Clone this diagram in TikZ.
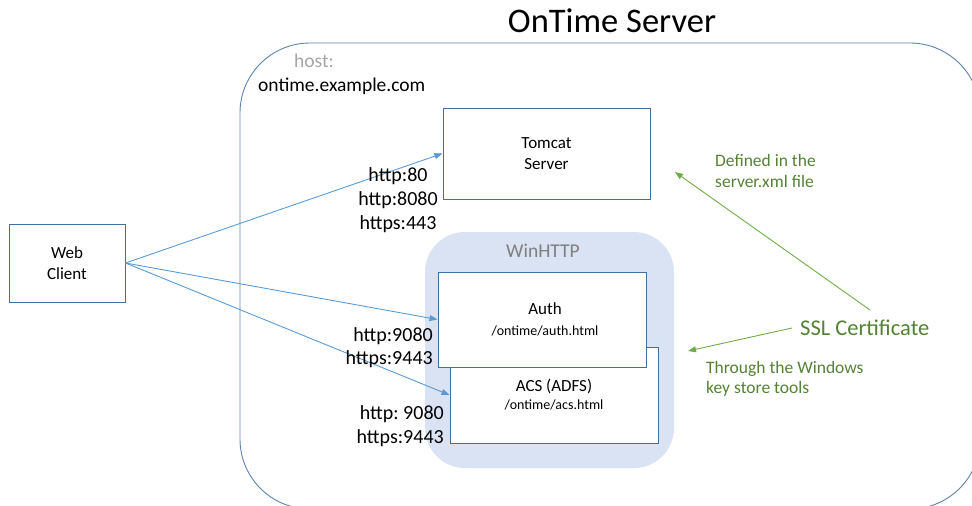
\documentclass[tikz,border=0pt]{standalone}
\usepackage{fontspec}
\setmainfont{Carlito}
\usetikzlibrary{arrows.meta}
\definecolor{boxblue}{HTML}{41719C}
\definecolor{framecol}{HTML}{5E84AE}
\definecolor{arrowblue}{HTML}{5B9BD5}
\definecolor{winfill}{HTML}{DAE3F3}
\definecolor{greentext}{HTML}{548235}
\definecolor{greenline}{HTML}{70AD47}
\definecolor{hostgray}{HTML}{A6A6A6}
\definecolor{midgray}{HTML}{7F7F7F}
\frenchspacing
\begin{document}
\begin{tikzpicture}[x=1pt,y=-1pt,
  compbox/.style={draw=boxblue, line width=1pt, fill=white, align=center, inner sep=0pt, font=\fontsize{17}{21}\selectfont},
  bluearrow/.style={draw=arrowblue, line width=0.9pt, -{Triangle[length=8pt,width=6pt]}},
  greenarrow/.style={draw=greenline, line width=0.9pt, -{Triangle[length=8pt,width=6pt]}},
  portlabel/.style={inner sep=0pt, font=\fontsize{20}{24}\selectfont},
  greennote/.style={inner sep=0pt, anchor=west, align=left, text=greentext, font=\fontsize{17.5}{21.5}\selectfont}
]
\useasboundingbox (0,0) rectangle (972,506);
\clip (0,0) rectangle (972,506);

% server frame
\node[draw=framecol, line width=0.9pt, rounded corners=70pt, minimum width=740pt, minimum height=466pt, inner sep=0pt] (server) at (610,276) {};
\node[inner sep=0pt, font=\fontsize{34.5}{40}\selectfont] (title) at (612,21) {OnTime Server};
\node[inner sep=0pt, anchor=west, text=hostgray, font=\fontsize{19.5}{24}\selectfont] (hostlbl) at (294,61) {host:};
\node[inner sep=0pt, anchor=west, font=\fontsize{19.5}{24}\selectfont] (hostname) at (258,86) {ontime.example.com};

% WinHTTP area
\node[fill=winfill, rounded corners=40pt, minimum width=249pt, minimum height=236pt, inner sep=0pt] (winhttp) at (549.5,350) {};
\node[inner sep=0pt, text=midgray, font=\fontsize{19.5}{24}\selectfont] (winlbl) at (543,251) {WinHTTP};

% component boxes
\node[compbox, minimum width=208pt, minimum height=96pt] (acs) at (554,395) {ACS (ADFS)\\[-3pt]{\fontsize{14}{17}\selectfont /ontime/acs.html}};
\node[compbox, minimum width=208pt, minimum height=95pt] (auth) at (542,319.5) {\hspace*{6pt}Auth\\{\fontsize{14}{17}\selectfont \hspace*{6pt}/ontime/auth.html}};
\node[compbox, minimum width=207pt, minimum height=91pt] (tomcat) at (546.5,153.5) {Tomcat\\Server};
\node[compbox, minimum width=116pt, minimum height=78pt] (wc) at (67,263) {Web\\Client};

% connectors
\draw[bluearrow] (wc.east) -- (tomcat.west);
\draw[bluearrow] (wc.east) -- (auth.west);
\draw[bluearrow] (wc.east) -- (acs.west);

% port labels
\node[portlabel, align=center] (tcports) at (398,200) {http:80\\http:8080\\https:443};
\node[portlabel, align=right, anchor=east] (authports) at (433,348) {http:9080\\[-1pt]https:9443};
\node[portlabel, align=right, anchor=east] (acsports) at (444,426) {http: 9080\\https:9443};

% SSL notes
\node[greennote] (defnote) at (715,171) {Defined in the\\server.xml file};
\node[inner sep=0pt, anchor=west, text=greentext, font=\fontsize{22.5}{27}\selectfont] (ssltext) at (800,328) {SSL Certificate};
\node[greennote, font=\fontsize{17.5}{20.5}\selectfont] (winnote) at (706,379) {Through the Windows\\key store tools};

\coordinate (sslA) at (870,310);
\coordinate (sslB) at (792,328);
\coordinate (tcTarget) at (675,172);
\coordinate (winTarget) at (688,351);
\draw[greenarrow] (sslA) -- (tcTarget);
\draw[greenarrow] (sslB) -- (winTarget);
\end{tikzpicture}
\end{document}
